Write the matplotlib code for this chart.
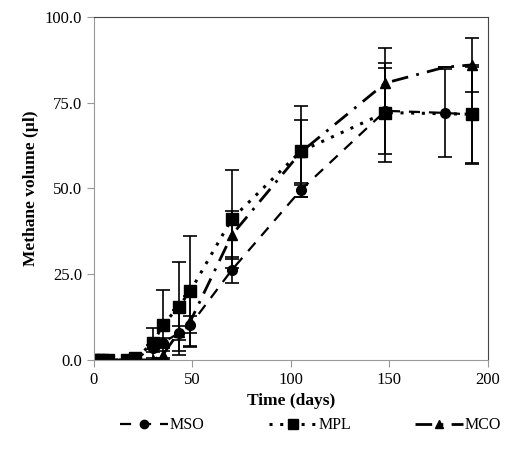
import matplotlib.pyplot as plt
from matplotlib.lines import Line2D

plt.rcParams['font.family'] = ['Liberation Serif', 'DejaVu Serif']

# MSO (circles, dashed)
mso_t = [0, 2, 4, 7, 17, 21, 30, 35, 43, 49, 70, 105, 148, 178, 192]
mso_y = [0, 0, 0, 0, 0, 0.3, 3.4, 5.0, 7.8, 10.2, 26.2, 49.5, 72.6, 72.0, 71.5]
mso_e = [0, 0, 0, 0, 0, 0, 1.0, 1.5, 2.0, 2.5, 3.7, 2.1, 12.5, 12.8, 14.0]

# MPL (squares, dotted)
mpl_t = [0, 2, 4, 7, 17, 21, 30, 35, 43, 49, 70, 105, 148, 192]
mpl_y = [0, 0, 0, 0, 0, 0.5, 4.9, 10.2, 15.5, 20.1, 41.1, 60.8, 72.1, 71.6]
mpl_e = [0, 0, 0, 0, 0, 0, 4.4, 10.2, 13.0, 16.1, 14.4, 13.2, 14.3, 14.4]

# MCO (triangles, dash-dot)
mco_t = [0, 2, 4, 7, 17, 21, 30, 35, 43, 49, 70, 105, 148, 178, 192]
mco_y = [0, 0, 0, 0, 0, 0, 0, 1.5, 8.0, 11.3, 36.4, 60.5, 80.7, 85.3, 86.0]
mco_e = [0, 0, 0, 0, 0, 0, 0, 1.0, 6.5, 7.4, 7.0, 9.5, 10.2, 0, 7.8]

fig = plt.figure(figsize=(5.05, 4.55), dpi=100)
ax = fig.add_axes([0.186, 0.209, 0.78, 0.754])

styles = [
    (mso_t, mso_y, mso_e, (0, (5, 4)), 1.6, 'o', 7, 'MSO'),
    (mpl_t, mpl_y, mpl_e, (0, (1, 2.5)), 2.2, 's', 8.5, 'MPL'),
    (mco_t, mco_y, mco_e, (0, (6, 3, 1, 3)), 2.0, '^', 7, 'MCO'),
]
handles = []
for t, y, e, ls, lw, mk, ms, lab in styles:
    marks = [i for i in range(len(t)) if not (lab == 'MCO' and t[i] == 178)]
    ax.errorbar(t, y, yerr=e, color='black', linestyle=ls, linewidth=lw,
                marker=mk, markersize=ms, markevery=marks, capsize=5,
                elinewidth=1.2, capthick=1.2)
    handles.append(Line2D([], [], color='black', linestyle=ls, linewidth=lw,
                          marker=mk, markersize=ms - 1, label=lab))

ax.set_xlim(0, 200)
ax.set_ylim(0, 100)
ax.set_xticks([0, 50, 100, 150, 200])
ax.set_yticks([0, 25, 50, 75, 100])
ax.set_yticklabels(['0.0', '25.0', '50.0', '75.0', '100.0'])
ax.tick_params(labelsize=12, direction='out', length=5, color='#999999')
for s in ax.spines.values():
    s.set_color('#444444')
ax.spines['left'].set_color('#999999')
ax.spines['bottom'].set_color('#999999')

ax.set_xlabel('Time (days)', fontsize=12.5, fontweight='bold', labelpad=4)
ax.set_ylabel('Methane volume (µl)', fontsize=12.5, fontweight='bold', labelpad=4)

ax.legend(handles=handles, loc='upper center', bbox_to_anchor=(0.55, -0.125), ncol=3,
          frameon=False, fontsize=11.5, handlelength=3, handletextpad=0.1, columnspacing=4)

fig.savefig('out.png', dpi=100)
